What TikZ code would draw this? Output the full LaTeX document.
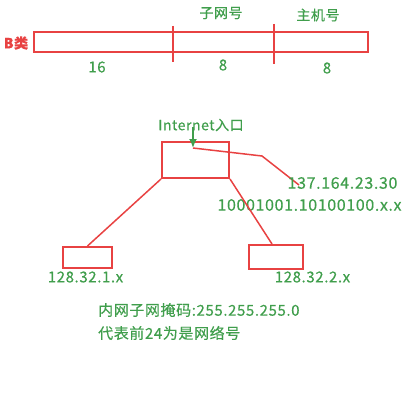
\documentclass[tikz,border=0pt]{standalone}
\usepackage{fontspec}
\setmainfont{Noto Sans CJK SC}[LetterSpace=4,FakeBold=0.4]
\usetikzlibrary{arrows.meta,positioning,calc}
\definecolor{boxred}{RGB}{232,66,66}
\definecolor{txtgreen}{RGB}{64,158,76}
\tikzset{
    box/.style={rectangle,draw=boxred,line width=2pt,inner sep=0pt},
    lbl/.style={text=txtgreen,inner sep=0pt,font=\fontsize{15}{17}\selectfont},
    big/.style={font=\fontsize{16}{18}\selectfont},
    small/.style={font=\fontsize{14}{16}\selectfont},
    link/.style={-,draw=boxred,line width=1.5pt},
    entry/.style={-{Latex[length=9pt,width=8pt]},draw=txtgreen,line width=2.2pt}
}
\begin{document}
\begin{tikzpicture}[x=1pt,y=-1pt]
    \useasboundingbox (0,0) rectangle (409,409);

    % address layout of class B
    \node[box,minimum width=334pt,minimum height=20pt] (bar) at (201,42) {};
    \draw[link,line width=2pt] (173,26) -- (173,62);
    \draw[link,line width=2pt] (274,24) -- (274,64);
    \node[lbl,text=boxred,font=\bfseries\fontsize{14}{16}\selectfont] (class) at (16,43) {B类};
    \node[lbl,small] (subnet) at (221,13) {子网号};
    \node[lbl,small] (host)   at (318,15) {主机号};
    \node[lbl] (bits 1) at (97,67)  {16};
    \node[lbl] (bits 2) at (223,65) {8};
    \node[lbl] (bits 3) at (327,68) {8};

    % network
    \node[box,minimum width=67pt,minimum height=36pt] (router) at (195.5,160) {};
    \node[lbl,small] (internet) at (201,125) {Internet入口};
    \coordinate (feed) at (193,127);
    \coordinate (gate) at (193,148);
    \coordinate (bend) at (262,156);
    \coordinate (wan)  at (299,185);
    \draw[link] (gate) -- (bend) -- (wan);
    \draw[entry] (feed) -- (gate);
    \node[lbl,big] (ip)   at (342.5,183) {137.164.23.30};
    \node[lbl,big] (bin)  at (309.5,205) {10001001.10100100.x.x};

    \node[box,minimum width=49pt,minimum height=21pt] (lan 1) at (87.5,257.5) {};
    \node[box,minimum width=54pt,minimum height=24pt] (lan 2) at (276,257) {};
    \draw[link] (router.south west) -- (lan 1.north);
    \draw[link] (router.south east) -- ($(lan 2.north)+(-4,0)$);
    \node[lbl] (addr 1) at (85.5,277)  {128.32.1.x};
    \node[lbl] (addr 2) at (312.5,277) {128.32.2.x};

    \node[lbl,anchor=west] (mask) at (98,310) {内网子网掩码:255.255.255.0};
    \node[lbl,anchor=west] (note) at (98,333) {代表前24为是网络号};

\end{tikzpicture}
\end{document}
